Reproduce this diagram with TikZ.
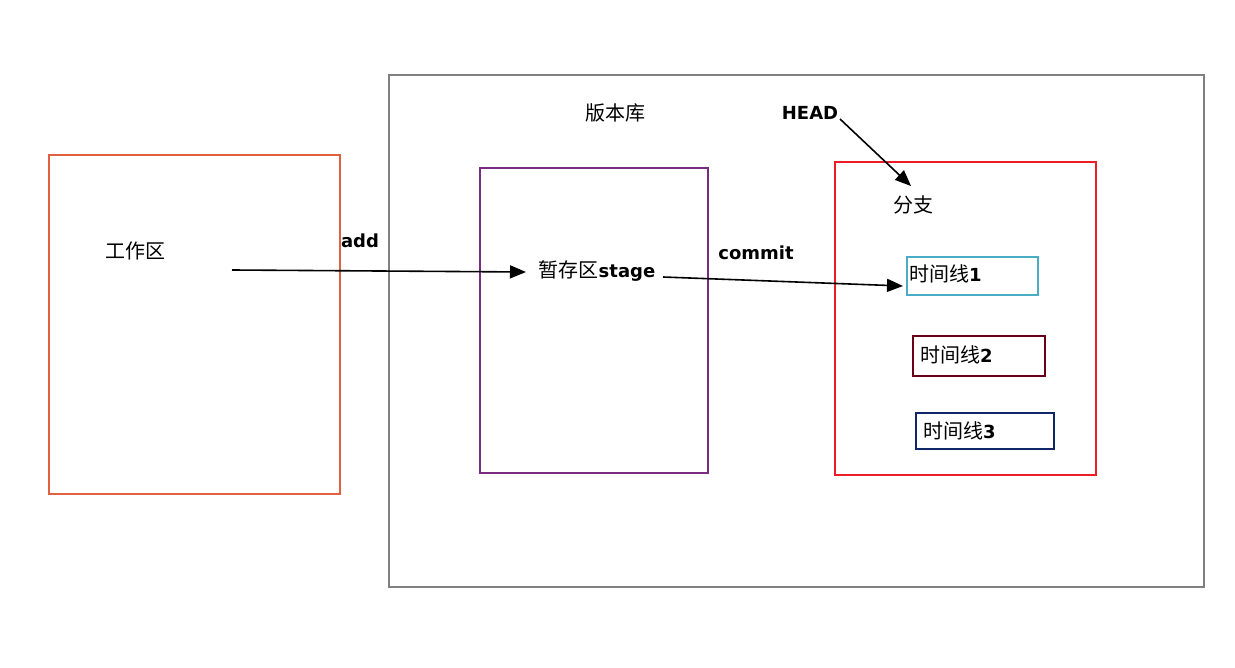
\documentclass[tikz,border=0pt]{standalone}
\usepackage{fontspec}
\setmainfont{DejaVu Sans}
\newfontfamily\cjk{Noto Sans CJK SC}
\usetikzlibrary{arrows.meta}
\definecolor{workc}{HTML}{E0603F}
\definecolor{repoc}{HTML}{808080}
\definecolor{stagec}{HTML}{7A2C80}
\definecolor{branchc}{HTML}{EE1C25}
\definecolor{tlone}{HTML}{4BACC6}
\definecolor{tltwo}{HTML}{6A0018}
\definecolor{tlthree}{HTML}{10286A}
\begin{document}
\begin{tikzpicture}[x=1pt,y=-1pt,
  box/.style={draw, line width=2pt, anchor=north west, inner sep=0pt},
  lbl/.style={font=\fontsize{18}{20}\selectfont\bfseries, inner sep=0pt},
  cn/.style={font=\cjk\fontsize{20}{22}\selectfont, inner sep=0pt},
  tl/.style={anchor=west, inner sep=0pt, font=\fontsize{18}{20}\selectfont\bfseries},
  arr/.style={-{Triangle[length=16pt,width=13pt]}, line width=1.6pt}]
\useasboundingbox (0,0) rectangle (1235,668);
% boxes
\node[box, workc, minimum width=291pt, minimum height=339pt] (work) at (48,154) {};
\node[box, repoc, minimum width=815pt, minimum height=512pt] (repo) at (388,74) {};
\node[box, stagec, minimum width=228pt, minimum height=305pt] (stage) at (479,167) {};
\node[box, branchc, minimum width=261pt, minimum height=313pt] (branch) at (834,161) {};
\node[box, tlone, minimum width=131pt, minimum height=38pt] (t1) at (906,256) {};
\node[box, tltwo, minimum width=132pt, minimum height=40pt] (t2) at (912,335) {};
\node[box, tlthree, minimum width=138pt, minimum height=36pt] (t3) at (915,412) {};
% labels
\node[cn] (worklbl) at (135,251) {工作区};
\node[cn] (repolbl) at (615,113) {版本库};
\node[cn] (branchlbl) at (913,205) {分支};
\node[inner sep=0pt] (stagelbl) at (597,271) {{\cjk\fontsize{20}{22}\selectfont 暂存区}{\fontsize{18}{20}\selectfont\bfseries stage}};
\node[lbl] (head) at (810,113) {HEAD};
\node[lbl] (add) at (360,241) {add};
\node[lbl] (commit) at (756,253) {commit};
\node[tl] (t1l) at (909,274) {{\cjk\fontsize{20}{22}\selectfont\mdseries 时间线}1};
\node[tl] (t2l) at (920,355) {{\cjk\fontsize{20}{22}\selectfont\mdseries 时间线}2};
\node[tl] (t3l) at (923,431) {{\cjk\fontsize{20}{22}\selectfont\mdseries 时间线}3};
% arrows
\coordinate (a0) at (232,270);
\coordinate (a1) at (526,272);
\coordinate (c0) at (663,277);
\coordinate (c1) at (903,286);
\coordinate (h0) at (840,119);
\coordinate (h1) at (911,186);
\draw[arr] (a0) -- (a1);
\draw[arr] (c0) -- (c1);
\draw[arr] (h0) -- (h1);
\end{tikzpicture}
\end{document}
